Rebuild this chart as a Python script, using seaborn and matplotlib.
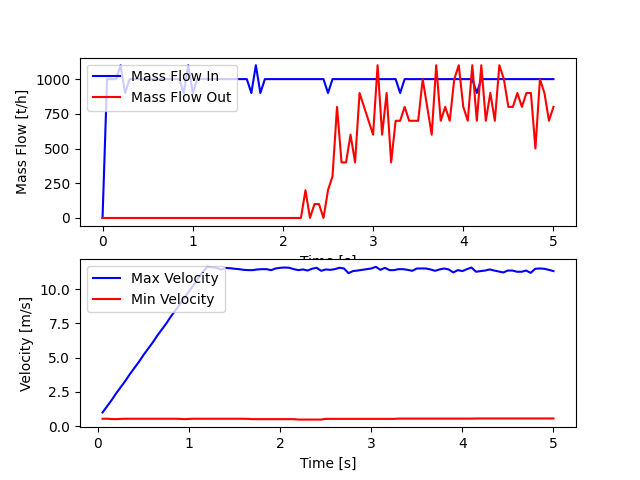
import numpy as np
import matplotlib
matplotlib.use("Agg")
import matplotlib.pyplot as plt
import seaborn as sns

# ==========================================
# Data
# ==========================================

time = np.round(np.arange(0, 101) * 0.05, 2)
time_vel = time[1:]

mass_in = [0, 1000, 1000, 1000, 1100, 900] + [1000] * 12 + [900, 1100, 900] \
    + [1000] * 12 + [900, 1100, 900] + [1000] * 14 + [900] + [1000] * 15 \
    + [900] + [1000] * 16 + [900] + [1000] * 17

mass_out = [0] * 45 + [
    200, 0, 100, 100, 0, 200, 300, 800, 400, 400,
    600, 400, 900, 800, 700, 600, 1100, 600, 900, 400,
    700, 700, 800, 700, 700, 700, 1000, 800, 600, 1100,
    700, 800, 700, 1000, 1100, 800, 700, 1100, 700, 1100,
    700, 900, 700, 1100, 1000, 800, 800, 900, 800, 900,
    900, 500, 1000, 900, 700, 800,
]

max_vel = [
    1.0, 1.45, 1.9, 2.4, 2.85, 3.3, 3.8, 4.25, 4.7, 5.2,
    5.65, 6.1, 6.6, 7.05, 7.5, 8.0, 8.45, 8.9, 9.4, 9.85,
    10.3, 10.8, 11.25,
    11.63, 11.6, 11.56, 11.42, 11.55, 11.53, 11.49, 11.46, 11.41, 11.39,
    11.39, 11.44, 11.46, 11.46, 11.39, 11.51, 11.56, 11.58, 11.56, 11.46,
    11.39,
    11.44, 11.36, 11.49, 11.56, 11.34, 11.44, 11.41, 11.46, 11.56, 11.51,
    11.17, 11.32, 11.36, 11.41, 11.46, 11.51, 11.63, 11.41, 11.56, 11.39,
    11.39, 11.46, 11.46, 11.41, 11.34, 11.51, 11.51, 11.51, 11.44, 11.34,
    11.44, 11.51, 11.44, 11.22, 11.39, 11.32, 11.46, 11.58, 11.27, 11.32,
    11.36, 11.44, 11.36, 11.29, 11.22, 11.36, 11.36, 11.27, 11.27, 11.36,
    11.19, 11.49, 11.51, 11.49, 11.41, 11.32,
]

min_vel = [
    0.54, 0.54, 0.52, 0.51, 0.53, 0.54, 0.54, 0.54, 0.54, 0.54,
    0.54, 0.54, 0.54, 0.54, 0.54, 0.54, 0.54, 0.53, 0.51, 0.53,
    0.54, 0.54, 0.54, 0.54, 0.54, 0.54, 0.54, 0.54, 0.54, 0.54,
    0.54, 0.54, 0.53,
] + [0.51] * 10 + [0.48] * 6 + [0.53] * 16 + [0.55] * 17 + [0.56] * 18

# ==========================================
# Plot
# ==========================================

fig, (ax1, ax2) = plt.subplots(2, 1, figsize=(6.4, 4.8), dpi=100)

sns.lineplot(x=time, y=mass_in, color="blue", label="Mass Flow In", ax=ax1)
sns.lineplot(x=time, y=mass_out, color="red", label="Mass Flow Out", ax=ax1)
ax1.set_xlabel("Time [s]")
ax1.set_ylabel("Mass Flow [t/h]")
ax1.legend(loc="upper left")

sns.lineplot(x=time_vel, y=max_vel, color="blue", label="Max Velocity", ax=ax2)
sns.lineplot(x=time_vel, y=min_vel, color="red", label="Min Velocity", ax=ax2)
ax2.set_xlabel("Time [s]")
ax2.set_ylabel("Velocity [m/s]")
ax2.legend(loc="upper left")

plt.savefig("out.png")
